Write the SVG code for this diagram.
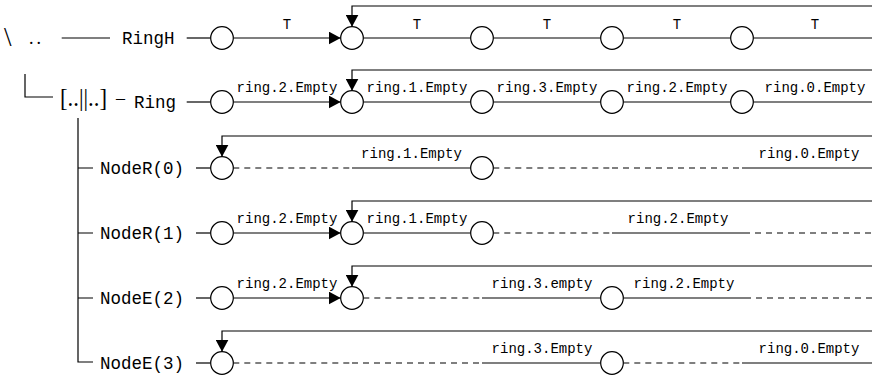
<svg xmlns="http://www.w3.org/2000/svg" width="872" height="376" viewBox="0 0 872 376">
<style>
.ln{stroke:#000;stroke-width:1.2;fill:none}
.da{stroke:#000;stroke-width:1.2;fill:none;stroke-dasharray:6 5}
.nd{fill:#fff;stroke:#000;stroke-width:1.2}
.lb{font-size:14px;fill:#000;text-anchor:middle}
.nm{font-size:17.5px;fill:#000}
.rm{fill:#000}
</style>
<defs>
<marker id="ah" viewBox="0 0 12 13" refX="12" refY="6.5" markerWidth="12" markerHeight="13" markerUnits="userSpaceOnUse" orient="auto">
<path d="M0,0 L12,6.5 L0,13 z" fill="#000"/>
</marker>
</defs>

<g id="tree" font-family="Liberation Serif, DejaVu Serif, serif">
<text class="rm" x="4" y="46" font-size="27">\</text>
<text class="rm" x="29" y="44" font-size="18" letter-spacing="3">..</text>
<path class="ln" d="M61.7,38 H110"/>
<path class="ln" d="M25,74 V97 H53"/>
<text class="rm" x="60" y="106" font-size="25" textLength="47" lengthAdjust="spacingAndGlyphs">[..||..]</text>
<text class="rm" x="116" y="104" font-size="18">–</text>
<path class="ln" d="M78,118 V362 H93 M78,168 H93 M78,233 H93 M78,298 H93"/>
</g>

<g id="connectors">
<path class="ln" d="M186.7,38 H210.7"/>
<path class="ln" d="M233.3,38 H340.7" marker-end="url(#ah)"/>
<path class="ln" d="M363.3,38 H470.7 M493.3,38 H600.7 M623.3,38 H730.7 M753.3,38 H880"/>
<path class="ln" d="M880,6 H352 V26.7" marker-end="url(#ah)"/>
<path class="ln" d="M186.7,102 H210.7"/>
<path class="ln" d="M233.3,102 H340.7" marker-end="url(#ah)"/>
<path class="ln" d="M363.3,102 H470.7 M493.3,102 H600.7 M623.3,102 H730.7 M753.3,102 H880"/>
<path class="ln" d="M880,70 H352 V90.7" marker-end="url(#ah)"/>
<path class="ln" d="M196,168 H210.7"/>
<path class="da" d="M233.3,168 H352"/>
<path class="ln" d="M352,168 H470.7"/>
<path class="da" d="M493.3,168 H612 M612,168 H742"/>
<path class="ln" d="M742,168 H880"/>
<path class="ln" d="M880,136 H222 V156.7" marker-end="url(#ah)"/>
<path class="ln" d="M196,233 H210.7"/>
<path class="ln" d="M233.3,233 H340.7" marker-end="url(#ah)"/>
<path class="ln" d="M363.3,233 H470.7"/>
<path class="da" d="M493.3,233 H612"/>
<path class="ln" d="M612,233 H744"/>
<path class="da" d="M744,233 H880"/>
<path class="ln" d="M880,201 H352 V221.7" marker-end="url(#ah)"/>
<path class="ln" d="M196,298 H210.7"/>
<path class="ln" d="M233.3,298 H340.7" marker-end="url(#ah)"/>
<path class="da" d="M363.3,298 H482"/>
<path class="ln" d="M482,298 H600.7 M623.3,298 H745"/>
<path class="da" d="M745,298 H880"/>
<path class="ln" d="M880,266 H352 V286.7" marker-end="url(#ah)"/>
<path class="ln" d="M196,363 H210.7"/>
<path class="da" d="M233.3,363 H352 M352,363 H482"/>
<path class="ln" d="M482,363 H600.7"/>
<path class="da" d="M623.3,363 H742"/>
<path class="ln" d="M742,363 H880"/>
<path class="ln" d="M880,331 H222 V351.7" marker-end="url(#ah)"/>
</g>

<g id="labels" font-family="Liberation Mono, DejaVu Sans Mono, monospace">
<text class="lb" x="287" y="29">T</text>
<text class="lb" x="417" y="29">T</text>
<text class="lb" x="547" y="29">T</text>
<text class="lb" x="677" y="29">T</text>
<text class="lb" x="815" y="29">T</text>
<text class="lb" x="287" y="92">ring.2.Empty</text>
<text class="lb" x="417" y="92">ring.1.Empty</text>
<text class="lb" x="547" y="92">ring.3.Empty</text>
<text class="lb" x="677" y="92">ring.2.Empty</text>
<text class="lb" x="815" y="92">ring.0.Empty</text>
<text class="lb" x="411.5" y="158">ring.1.Empty</text>
<text class="lb" x="809" y="158">ring.0.Empty</text>
<text class="lb" x="287" y="223">ring.2.Empty</text>
<text class="lb" x="417" y="223">ring.1.Empty</text>
<text class="lb" x="678" y="223">ring.2.Empty</text>
<text class="lb" x="287" y="288">ring.2.Empty</text>
<text class="lb" x="542" y="288">ring.3.empty</text>
<text class="lb" x="684" y="288">ring.2.Empty</text>
<text class="lb" x="542" y="353">ring.3.Empty</text>
<text class="lb" x="809" y="353">ring.0.Empty</text>
</g>

<g id="RingH" font-family="Liberation Mono, DejaVu Sans Mono, monospace">
<text class="nm" x="122" y="44">RingH</text>
<circle class="nd" cx="222" cy="38" r="11.3"/><circle class="nd" cx="352" cy="38" r="11.3"/><circle class="nd" cx="482" cy="38" r="11.3"/><circle class="nd" cx="612" cy="38" r="11.3"/><circle class="nd" cx="742" cy="38" r="11.3"/>
</g>
<g id="Ring" font-family="Liberation Mono, DejaVu Sans Mono, monospace">
<text class="nm" x="134" y="108">Ring</text>
<circle class="nd" cx="222" cy="102" r="11.3"/><circle class="nd" cx="352" cy="102" r="11.3"/><circle class="nd" cx="482" cy="102" r="11.3"/><circle class="nd" cx="612" cy="102" r="11.3"/><circle class="nd" cx="742" cy="102" r="11.3"/>
</g>
<g id="NodeR0" font-family="Liberation Mono, DejaVu Sans Mono, monospace">
<text class="nm" x="100" y="174">NodeR(0)</text>
<circle class="nd" cx="222" cy="168" r="11.3"/><circle class="nd" cx="482" cy="168" r="11.3"/>
</g>
<g id="NodeR1" font-family="Liberation Mono, DejaVu Sans Mono, monospace">
<text class="nm" x="100" y="239">NodeR(1)</text>
<circle class="nd" cx="222" cy="233" r="11.3"/><circle class="nd" cx="352" cy="233" r="11.3"/><circle class="nd" cx="482" cy="233" r="11.3"/>
</g>
<g id="NodeE2" font-family="Liberation Mono, DejaVu Sans Mono, monospace">
<text class="nm" x="100" y="304">NodeE(2)</text>
<circle class="nd" cx="222" cy="298" r="11.3"/><circle class="nd" cx="352" cy="298" r="11.3"/><circle class="nd" cx="612" cy="298" r="11.3"/>
</g>
<g id="NodeE3" font-family="Liberation Mono, DejaVu Sans Mono, monospace">
<text class="nm" x="100" y="369">NodeE(3)</text>
<circle class="nd" cx="222" cy="363" r="11.3"/><circle class="nd" cx="612" cy="363" r="11.3"/>
</g>
</svg>
